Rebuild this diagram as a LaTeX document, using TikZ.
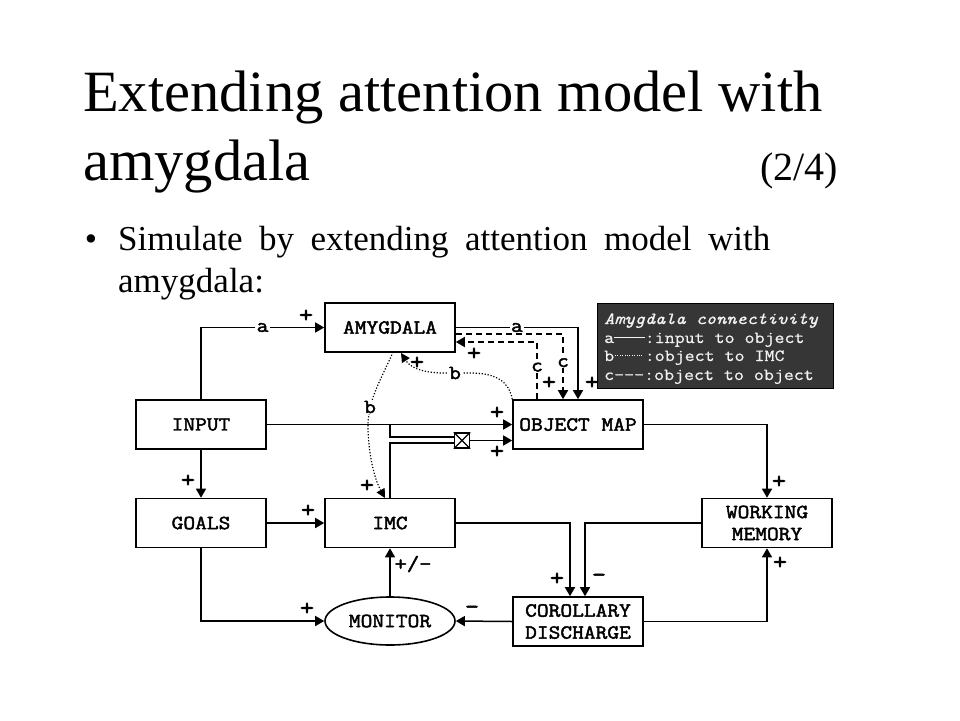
\documentclass[tikz,border=0pt]{standalone}
\usepackage{fontspec}
\setmainfont{Liberation Serif}
\newfontfamily\courb[FakeStretch=1.14, FakeBold=2.2]{Latin Modern Mono}
\newfontfamily\courl[FakeStretch=1.14, FakeBold=0.8]{Latin Modern Mono}
\usetikzlibrary{arrows.meta,shapes.geometric}
\newcommand\mytitlesize{\fontsize{58.5}{69}\selectfont}
\newcommand\mybulletsize{\fontsize{35}{42}\selectfont}
\newcommand\myboxfont{\courb\fontsize{20}{23}\selectfont}
\newcommand\mysgnfont{\courb\fontsize{24}{24}\selectfont}
\newcommand\mylegfont{\courl\fontsize{17}{19}\selectfont}
\definecolor{legfill}{HTML}{363636}
\definecolor{legtext}{HTML}{F2F2F2}
\begin{document}
\begin{tikzpicture}[x=1pt,y=-1pt,
  blk/.style={draw, line width=1.6pt, minimum width=130pt, minimum height=49pt,
    inner sep=0pt, font=\myboxfont, align=center},
  con/.style={line width=1.5pt, -{Triangle[length=9pt,width=10pt]}},
  wire/.style={line width=1.5pt},
  dsh/.style={dash pattern=on 6pt off 4pt},
  dots/.style={line width=1.2pt, dash pattern=on 1.2pt off 1.8pt},
  lbl/.style={fill=white, inner sep=1.5pt, font=\myboxfont},
  sgn/.style={inner sep=0pt, font=\mysgnfont},
  legline/.style={anchor=base west, inner sep=0pt, font=\mylegfont, text=legtext}
]
\useasboundingbox[fill=white] (0,0) rectangle (960,720);

% title
\node[anchor=base west, inner sep=0pt, font=\mytitlesize] (t1) at (83,111) {Extending attention model with};
\node[anchor=base west, inner sep=0pt, font=\mytitlesize] (t2) at (83,180) {amygdala};
\node[anchor=base east, inner sep=0pt, font=\fontsize{40}{44}\selectfont] (t3) at (838,180) {(2/4)};
% bullet
\node[anchor=base, inner sep=0pt, font=\mybulletsize] (bul) at (91,250) {\textbullet};
\node[anchor=base west, inner sep=0pt, font=\mybulletsize] (b1) at (118,250) {\makebox[652pt][s]{Simulate by extending attention model with}};
\node[anchor=base west, inner sep=0pt, font=\mybulletsize] (b2) at (118,292) {amygdala:};

% blocks
\node[blk] (amyg) at (390,327.5) {AMYGDALA};
\node[blk] (input) at (201,424.5) {INPUT};
\node[blk] (obj) at (578,424.5) {OBJECT MAP};
\node[blk] (goals) at (201,523) {GOALS};
\node[blk] (imc) at (390,523) {IMC};
\node[blk] (wm) at (767,523) {WORKING\\[-1pt]MEMORY};
\node[blk] (cor) at (578,621.5) {COROLLARY\\[-1pt]DISCHARGE};
\node[blk, ellipse, minimum width=130pt, minimum height=48pt] (mon) at (390,621) {MONITOR};
\node[draw, line width=1.3pt, minimum size=15pt, inner sep=0pt] (mult) at (462,440.5) {};
\draw[line width=1.3pt] (mult.north west) -- (mult.south east) (mult.north east) -- (mult.south west);

% legend
\node[draw=black, line width=1pt, fill=legfill, anchor=north west, minimum width=236pt, minimum height=85pt, inner sep=0pt] (leg) at (597,303) {};
\node[legline] (l1) at (604,324) {\itshape Amygdala connectivity};
\node[legline] (l2) at (604,343) {a\rule[0.28em]{1.8em}{1pt}:input to object};
\node[legline] (l3) at (604,361) {b\hbox to 1.8em{\leaders\hbox to 2.4pt{\hss\rule[0.3em]{0.9pt}{0.9pt}\hss}\hfill}:object to IMC};
\node[legline] (l4) at (604,380) {c-{}-{}-:object to object};

% connectors
\draw[con] (input.north) |- node[lbl, pos=0.75] {a} (amyg.west);
\draw[con] (amyg.east) -| node[lbl, pos=0.25] {a} (obj.north);
\draw[con, dsh] ([yshift=-6.5pt]amyg.east) -| node[lbl, pos=0.72, inner sep=1pt] {c} ([xshift=-15pt]obj.north);
\draw[con, dsh] ([xshift=-41pt]obj.north) |- node[lbl, pos=0.28, inner sep=1pt] {c} ([yshift=-14.5pt]amyg.east);
\draw[con] (input.east) -- (obj.west);
\coordinate (j1) at (390,424.5);
\draw[wire] (j1) |- ([yshift=3.5pt]mult.west);
\draw[wire] (imc.north) |- ([yshift=-2.5pt]mult.west);
\draw[con] (mult.east) -- (mult.east -| obj.west);
\draw[con] (obj.east) -| (wm.north);
\draw[con] (input.south) -- (goals.north);
\draw[con] (goals.east) -- (imc.west);
\draw[con] (goals.south) |- (mon.west);
\draw[con] (mon.north) -- (imc.south);
\draw[con] (cor.west) -- (mon.east);
\draw[con] (imc.east) -| ([xshift=-8pt]cor.north);
\draw[con] (wm.west) -| ([xshift=7pt]cor.north);
\draw[con] (cor.east) -| (wm.south);

% dotted b connections
\draw[dots, -{Triangle[length=9pt,width=9pt]}] (obj.north west) .. controls (509,382) and (497,373) .. (470,373) -- (440,373) .. controls (420,372) and (410,367) .. (401,353);
\node[lbl, inner sep=1pt] (bl1) at (455,373) {b};
\draw[dots, -{Triangle[length=9pt,width=9pt]}] (393,352) .. controls (382,378) and (367,400) .. (368,430) .. controls (369,460) and (376,482) .. (385,498);
\node[lbl, inner sep=1pt] (bl2) at (370,407) {b};

% signs
\node[sgn] at (306,316) {+};
\node[sgn] at (474,354) {+};
\node[sgn] at (417,363) {+};
\node[sgn] at (549,383) {+};
\node[sgn] at (592,383) {+};
\node[sgn] at (497,413) {+};
\node[sgn] at (497,452) {+};
\node[sgn] at (188,481) {+};
\node[sgn] at (367,486) {+};
\node[sgn] at (308,511) {+};
\node[sgn, font=\myboxfont\fontsize{21}{21}\selectfont] at (413,564) {+/-};
\node[sgn] at (307,609) {+};
\node[sgn] at (472,610) {-};
\node[sgn] at (557,579) {+};
\node[sgn] at (599,578) {-};
\node[sgn] at (779,482) {+};
\node[sgn] at (780,563) {+};
\end{tikzpicture}
\end{document}
